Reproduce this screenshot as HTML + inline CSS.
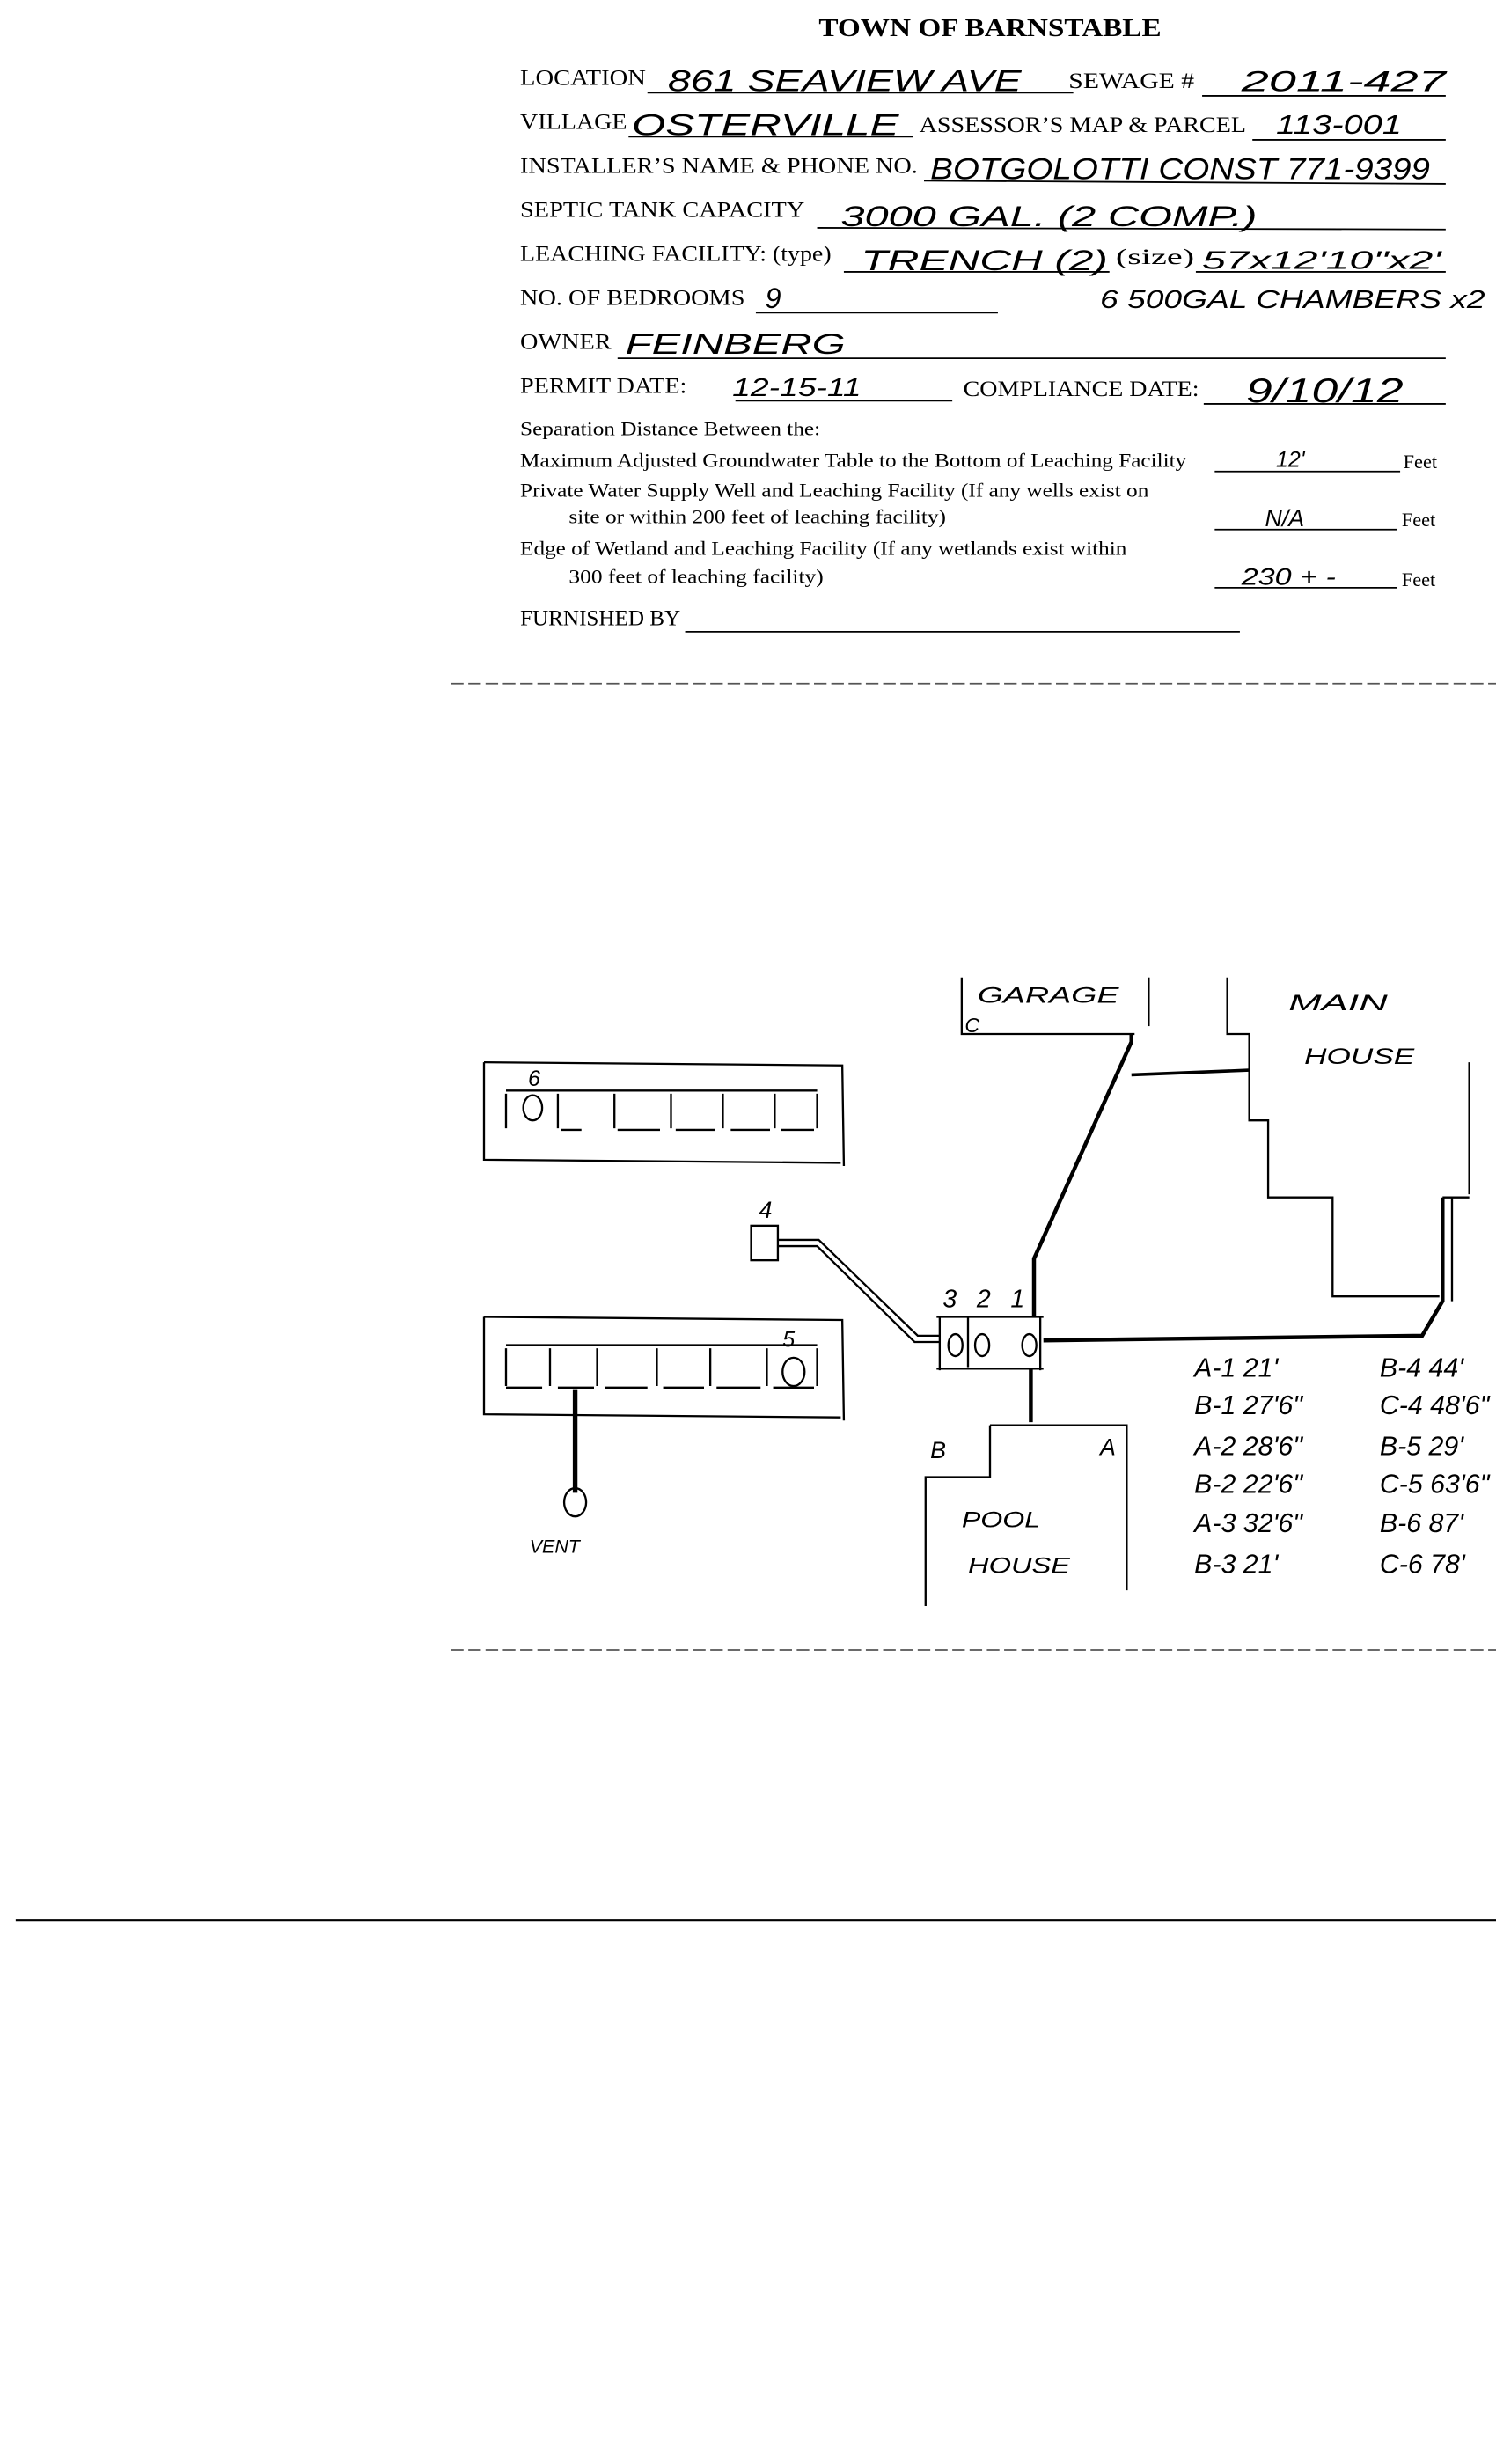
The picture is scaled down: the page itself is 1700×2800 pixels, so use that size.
<!DOCTYPE html>
<html><head><meta charset="utf-8"><style>
html,body{margin:0;padding:0;background:#fff;}
svg{display:block;}
.t{font-family:"Liberation Serif",serif;font-size:14px;fill:#000;}
.s{font-family:"Liberation Serif",serif;font-size:12.5px;fill:#000;}
.h{font-family:"Liberation Sans",sans-serif;fill:#000;font-style:italic;}
</style></head><body>
<svg width="1700" height="2800" viewBox="0 0 952 1568" xmlns="http://www.w3.org/2000/svg">
<text x="630" y="23" text-anchor="middle" font-family="Liberation Serif,serif" font-weight="bold" font-size="16" textLength="218" lengthAdjust="spacingAndGlyphs">TOWN OF BARNSTABLE</text>
<g stroke="#000" stroke-width="1" fill="none">
<line x1="412" y1="59" x2="683" y2="59"/><line x1="765" y1="61" x2="920" y2="61"/>
<line x1="400" y1="87" x2="581" y2="87"/><line x1="797" y1="89" x2="920" y2="89"/>
<line x1="588" y1="115" x2="920" y2="117"/>
<line x1="520" y1="145" x2="920" y2="146"/>
<line x1="537" y1="173" x2="706" y2="173"/><line x1="761" y1="173" x2="920" y2="173"/>
<line x1="481" y1="199" x2="635" y2="199"/>
<line x1="393" y1="228" x2="920" y2="228"/>
<line x1="468" y1="255" x2="606" y2="255"/><line x1="766" y1="257" x2="920" y2="257"/>
<line x1="773" y1="300" x2="891" y2="300"/>
<line x1="773" y1="337" x2="889" y2="337"/>
<line x1="773" y1="374" x2="889" y2="374"/>
<line x1="436" y1="402" x2="789" y2="402"/>
</g>
<g lengthAdjust="spacingAndGlyphs">
<text class="t" x="331" y="54" textLength="80" lengthAdjust="spacingAndGlyphs">LOCATION</text><text class="t" x="680" y="56" textLength="80" lengthAdjust="spacingAndGlyphs">SEWAGE #</text>
<text class="t" x="331" y="82" textLength="68" lengthAdjust="spacingAndGlyphs">VILLAGE</text><text class="t" x="585" y="84" textLength="208" lengthAdjust="spacingAndGlyphs">ASSESSOR’S MAP &amp; PARCEL</text>
<text class="t" x="331" y="110" textLength="253" lengthAdjust="spacingAndGlyphs">INSTALLER’S NAME &amp; PHONE NO.</text>
<text class="t" x="331" y="138" textLength="181" lengthAdjust="spacingAndGlyphs">SEPTIC TANK CAPACITY</text>
<text class="t" x="331" y="166" textLength="198" lengthAdjust="spacingAndGlyphs">LEACHING FACILITY: (type)</text><text class="t" x="710" y="168" textLength="50" lengthAdjust="spacingAndGlyphs">(size)</text>
<text class="t" x="331" y="194" textLength="143" lengthAdjust="spacingAndGlyphs">NO. OF BEDROOMS</text>
<text class="t" x="331" y="222" textLength="58" lengthAdjust="spacingAndGlyphs">OWNER</text>
<text class="t" x="331" y="250" textLength="106" lengthAdjust="spacingAndGlyphs">PERMIT DATE:</text><text class="t" x="613" y="252" textLength="150" lengthAdjust="spacingAndGlyphs">COMPLIANCE DATE:</text>
<text class="s" x="331" y="277" textLength="191" lengthAdjust="spacingAndGlyphs">Separation Distance Between the:</text>
<text class="s" x="331" y="297" textLength="424" lengthAdjust="spacingAndGlyphs">Maximum Adjusted Groundwater Table to the Bottom of Leaching Facility</text><text class="s" x="893" y="298">Feet</text>
<text class="s" x="331" y="316" textLength="400" lengthAdjust="spacingAndGlyphs">Private Water Supply Well and Leaching Facility (If any wells exist on</text>
<text class="s" x="362" y="333" textLength="240" lengthAdjust="spacingAndGlyphs">site or within 200 feet of leaching facility)</text><text class="s" x="892" y="335">Feet</text>
<text class="s" x="331" y="353" textLength="386" lengthAdjust="spacingAndGlyphs">Edge of Wetland and Leaching Facility (If any wetlands exist within</text>
<text class="s" x="362" y="371" textLength="162" lengthAdjust="spacingAndGlyphs">300 feet of leaching facility)</text><text class="s" x="892" y="373">Feet</text>
<text class="t" x="331" y="398" textLength="102" lengthAdjust="spacingAndGlyphs">FURNISHED BY</text>
</g>
<g class="h">
<text x="425" y="58" font-size="19" textLength="225" lengthAdjust="spacingAndGlyphs">861 SEAVIEW AVE</text>
<text x="790" y="58" font-size="18" textLength="130" lengthAdjust="spacingAndGlyphs">2011-427</text>
<text x="402" y="86" font-size="19" textLength="170" lengthAdjust="spacingAndGlyphs">OSTERVILLE</text>
<text x="812" y="85" font-size="17" textLength="80" lengthAdjust="spacingAndGlyphs">113-001</text>
<text x="592" y="114" font-size="19" textLength="318" lengthAdjust="spacingAndGlyphs">BOTGOLOTTI CONST 771-9399</text>
<text x="535" y="144" font-size="18" textLength="265" lengthAdjust="spacingAndGlyphs">3000 GAL. (2 COMP.)</text>
<text x="548" y="172" font-size="18" textLength="157" lengthAdjust="spacingAndGlyphs">TRENCH (2)</text>
<text x="765" y="171" font-size="16" textLength="152" lengthAdjust="spacingAndGlyphs">57x12'10"x2'</text>
<text x="487" y="196" font-size="18">9</text>
<text x="700" y="196" font-size="16" textLength="245" lengthAdjust="spacingAndGlyphs">6 500GAL CHAMBERS x2</text>
<text x="398" y="225" font-size="18" textLength="140" lengthAdjust="spacingAndGlyphs">FEINBERG</text>
<text x="466" y="252" font-size="16" textLength="82" lengthAdjust="spacingAndGlyphs">12-15-11</text>
<text x="793" y="256" font-size="22" textLength="100" lengthAdjust="spacingAndGlyphs">9/10/12</text>
<text x="812" y="297" font-size="14">12'</text>
<text x="805" y="335" font-size="15">N/A</text>
<text x="790" y="372" font-size="15" textLength="60" lengthAdjust="spacingAndGlyphs">230 + -</text>
</g>
<g stroke="#555" stroke-width="1" stroke-dasharray="8 3" fill="none">
<line x1="287" y1="435" x2="952" y2="435"/>
<line x1="287" y1="1050" x2="952" y2="1050"/>
</g>
<line x1="10" y1="1222" x2="952" y2="1222" stroke="#000" stroke-width="1.2"/>
<g stroke="#000" stroke-width="1.3" fill="none">
<polyline points="308,676 536,678 537,742"/><polyline points="308,676 308,738 535,740"/>
<line x1="322" y1="694" x2="520" y2="694"/>
<line x1="322" y1="696" x2="322" y2="718"/><line x1="520" y1="696" x2="520" y2="718"/>
<line x1="355" y1="696" x2="355" y2="718"/><line x1="391" y1="696" x2="391" y2="718"/><line x1="427" y1="696" x2="427" y2="718"/><line x1="460" y1="696" x2="460" y2="718"/><line x1="493" y1="696" x2="493" y2="718"/>
<line x1="357" y1="719" x2="370" y2="719"/><line x1="393" y1="719" x2="420" y2="719"/><line x1="430" y1="719" x2="455" y2="719"/><line x1="465" y1="719" x2="490" y2="719"/><line x1="497" y1="719" x2="518" y2="719"/>
<ellipse cx="339" cy="705" rx="6" ry="8"/>
<polyline points="308,838 536,840 537,904"/><polyline points="308,838 308,900 535,902"/>
<line x1="322" y1="856" x2="520" y2="856"/>
<line x1="322" y1="858" x2="322" y2="882"/><line x1="520" y1="858" x2="520" y2="882"/>
<line x1="350" y1="858" x2="350" y2="882"/><line x1="380" y1="858" x2="380" y2="882"/><line x1="418" y1="858" x2="418" y2="882"/><line x1="452" y1="858" x2="452" y2="882"/><line x1="488" y1="858" x2="488" y2="882"/>
<line x1="322" y1="883" x2="345" y2="883"/><line x1="355" y1="883" x2="378" y2="883"/><line x1="385" y1="883" x2="412" y2="883"/><line x1="422" y1="883" x2="448" y2="883"/><line x1="456" y1="883" x2="484" y2="883"/><line x1="492" y1="883" x2="518" y2="883"/>
<ellipse cx="505" cy="873" rx="7" ry="9"/>
<line x1="366" y1="884" x2="366" y2="950" stroke-width="3"/>
<ellipse cx="366" cy="956" rx="7" ry="9"/>
<rect x="478" y="780" width="17" height="22"/>
<polyline points="495,789 521,789 584,850 598,850"/><polyline points="495,793 520,793 582,854 598,854"/>
<line x1="596" y1="838" x2="664" y2="838"/><line x1="596" y1="871" x2="664" y2="871"/>
<line x1="598" y1="838" x2="598" y2="872"/><line x1="662" y1="838" x2="662" y2="872"/>
<line x1="616" y1="838" x2="616" y2="870"/>
<ellipse cx="608" cy="856" rx="4.5" ry="7"/><ellipse cx="625" cy="856" rx="4.5" ry="7"/><ellipse cx="655" cy="856" rx="4.5" ry="7"/>
<polyline points="658,838 658,801 720,663 720,658" stroke-width="2.5"/>
<line x1="720" y1="684" x2="795" y2="681" stroke-width="2"/>
<polyline points="612,622 612,658 722,658"/><line x1="731" y1="622" x2="731" y2="653"/>
<polyline points="781,622 781,658 795,658 795,713 807,713 807,762 848,762 848,825 916,825"/>
<line x1="918" y1="762" x2="935" y2="762"/>
<line x1="935" y1="676" x2="935" y2="760"/>
<polyline points="918,762 918,828 905,850 664,853" stroke-width="2.5"/>
<line x1="924" y1="762" x2="924" y2="828"/>
<line x1="656" y1="871" x2="656" y2="905" stroke-width="2.5"/>
<polyline points="630,907 717,907 717,1012"/>
<polyline points="630,907 630,940 589,940 589,1022"/>
</g>
<g class="h" font-size="14">
<text x="336" y="691">6</text><text x="498" y="857">5</text><text x="483" y="775" font-size="15">4</text>
<text x="337" y="988" font-size="12">VENT</text>
<text x="600" y="832" font-size="16" textLength="52">3 2 1</text>
<text x="622" y="638" font-size="14" textLength="90" lengthAdjust="spacingAndGlyphs">GARAGE</text>
<text x="614" y="657" font-size="13">C</text>
<text x="820" y="643" font-size="14" textLength="63" lengthAdjust="spacingAndGlyphs">MAIN</text>
<text x="830" y="677" font-size="14" textLength="70" lengthAdjust="spacingAndGlyphs">HOUSE</text>
<text x="700" y="926" font-size="15">A</text>
<text x="592" y="928" font-size="15">B</text>
<text x="612" y="972" font-size="14" textLength="50" lengthAdjust="spacingAndGlyphs">POOL</text>
<text x="616" y="1001" font-size="14" textLength="65" lengthAdjust="spacingAndGlyphs">HOUSE</text>
<g font-size="17">
<text x="760" y="876">A-1  21'</text><text x="878" y="876">B-4  44'</text>
<text x="760" y="900">B-1  27'6"</text><text x="878" y="900">C-4  48'6"</text>
<text x="760" y="926">A-2  28'6"</text><text x="878" y="926">B-5  29'</text>
<text x="760" y="950">B-2  22'6"</text><text x="878" y="950">C-5  63'6"</text>
<text x="760" y="975">A-3  32'6"</text><text x="878" y="975">B-6  87'</text>
<text x="760" y="1001">B-3  21'</text><text x="878" y="1001">C-6  78'</text>
</g>
</g>
</svg>
</body></html>
